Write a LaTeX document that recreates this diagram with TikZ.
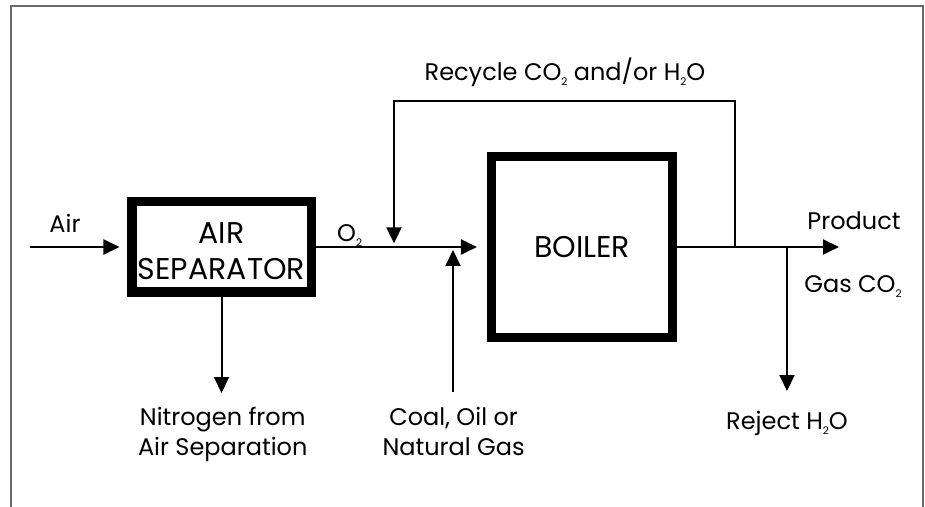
\documentclass[tikz,border=0pt]{standalone}
\usepackage{fontspec}
\setmainfont{Poppins}
\usetikzlibrary{arrows.meta}
\definecolor{framegray}{RGB}{105,105,105}
\newcommand\dn[1]{\raisebox{-5bp}{\fontsize{10.5bp}{10.5bp}\selectfont #1}}
\begin{document}
\begin{tikzpicture}[x=1bp,y=-1bp,
  flow/.style={line width=2bp,-{Triangle[length=16bp,width=15bp]}},
  proc/.style={draw,line width=9.5bp,inner sep=0pt,align=center,font=\fontsize{30bp}{36bp}\selectfont},
  lbl/.style={inner sep=0pt,font=\fontsize{24bp}{30bp}\selectfont}]
\useasboundingbox (0,0) rectangle (925,507);
\draw[framegray,line width=2bp] (11,507) -- (11,6) -- (923,6) -- (923,507);

\node[proc,minimum width=179.5bp,minimum height=90.5bp] (airsep) at (221.5,247)
  {\rule{0pt}{29.5bp}AIR\\SEPARATOR};
\node[proc,minimum width=181bp,minimum height=180.5bp] (boiler) at (582,247) {BOILER};

\coordinate (airin) at (30,247);
\coordinate (rsplit) at (735,247);
\coordinate (rtr) at (735,101);
\coordinate (rtl) at (394,101);
\coordinate (rin) at (394,247);
\coordinate (fuelsrc) at (453,392);
\coordinate (fuelin) at (453,247);
\coordinate (n2out) at (221.5,393);
\coordinate (prod) at (839,247);
\coordinate (rjsplit) at (787,247);
\coordinate (rjout) at (787,391);

\draw[flow,shorten >=7.5bp] (airin) -- (airsep.west);
\draw[flow,shorten >=9.8bp] (airsep.east) -- (boiler.west);
\draw[flow,shorten >=3.7bp] (rsplit) -- (rtr) -- (rtl) -- (rin);
\draw[flow,shorten >=3bp] (fuelsrc) -- (fuelin);
\draw[flow] (airsep.south) -- (n2out);
\draw[flow] (boiler.east) -- (prod);
\draw[flow] (rjsplit) -- (rjout);

\node[lbl,anchor=base] (airlbl) at (65,232.7) {Air};
\node[lbl,anchor=base west] (o2lbl) at (337,241.7) {O\dn{2}};
\node[lbl,anchor=base] (reclbl) at (565,80.7) {Recycle CO\dn{2} and/or H\dn{2}O};
\node[lbl,anchor=base] (prodlbl) at (854,230) {Product};
\node[lbl,anchor=base] (gaslbl) at (853,292.3) {Gas CO\dn{2}};
\node[lbl,anchor=north,align=center] (n2lbl) at (222.7,407) {Nitrogen from\\Air Separation};
\node[lbl,anchor=north,align=center] (fuellbl) at (453.6,407) {Coal, Oil or\\Natural Gas};
\node[lbl,anchor=base] (rejlbl) at (787,429.3) {Reject H\dn{2}O};
\end{tikzpicture}
\end{document}
